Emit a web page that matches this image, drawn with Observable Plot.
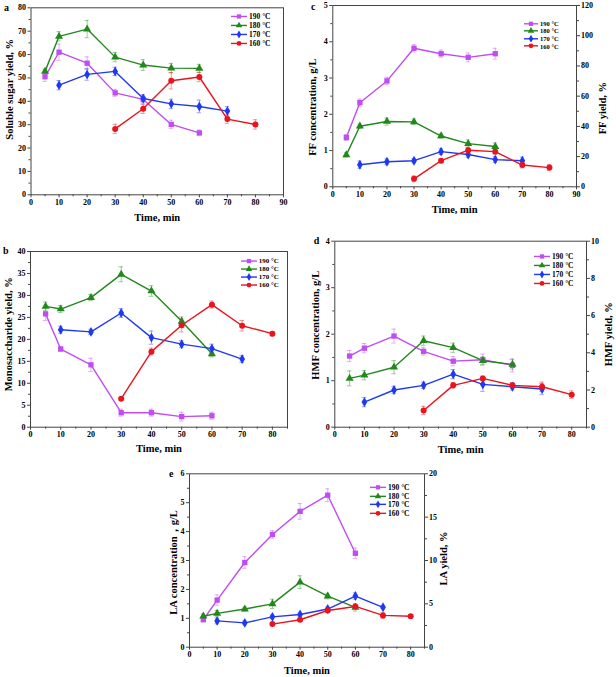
<!DOCTYPE html>
<html><head><meta charset="utf-8">
<script src="https://cdn.jsdelivr.net/npm/d3@7"></script>
<script src="https://cdn.jsdelivr.net/npm/@observablehq/plot@0.6"></script>
<style>
body{margin:0;background:#fff;}
#chart{position:relative;width:616px;height:677px;overflow:hidden;font-family:"Liberation Serif","Times New Roman",serif;font-weight:bold;color:#000;}
#chart > svg{position:absolute;overflow:visible;}
.legend{position:absolute;}
.legend .row{display:flex;align-items:center;white-space:nowrap;}
.legend svg{display:block;}
</style></head><body><div id="chart"></div>
<script>
const series = ["190 °C","180 °C","170 °C","160 °C"];
const colors = ["#c14cf2","#22881c","#1f38f2","#e8141e"];
const symbols = ["square","triangle","diamond","circle"];

const t190 = [5,10,20,30,40,50,60];
const t180 = [5,10,20,30,40,50,60];
const t170 = [10,20,30,40,50,60,70];
const t160 = [30,40,50,60,70,80];

// a: soluble sugar yield, %
const sugar190 = [50.5,61.0,56.3,43.6,40.8,30.1,26.5];
const sugarErr190 = [2.0,3.5,2.7,1.5,2.0,1.8,1.2];
const sugar180 = [52.8,67.8,70.9,58.9,55.5,54.2,54.1];
const sugarErr180 = [1.0,2.0,3.7,2.0,2.3,2.0,1.7];
const sugar170 = [46.9,51.5,52.8,41.2,38.9,37.8,35.8];
const sugarErr170 = [2.0,2.5,1.8,1.5,2.0,2.7,2.0];
const sugar160 = [28.2,36.8,48.8,50.4,32.4,30.1];
const sugarErr160 = [2.0,2.0,3.5,2.0,1.8,2.0];

// b: monosaccharide yield, %
const mono190 = [25.8,17.8,14.2,3.3,3.3,2.4,2.6];
const monoErr190 = [1.5,0.5,1.5,0.8,0.8,1.0,0.8];
const mono180 = [27.5,26.9,29.5,34.8,31.0,24.1,16.7];
const monoErr180 = [1.0,0.8,0.7,1.7,1.2,1.0,0.7];
const mono170 = [22.2,21.7,26.0,20.4,18.9,17.9,15.5];
const monoErr170 = [0.8,0.6,1.0,1.5,0.8,1.0,0.8];
const mono160 = [6.5,17.2,23.2,27.9,23.1,21.3];
const monoErr160 = [0.3,0.8,1.5,0.8,1.2,0.5];

// c: FF concentration, g/L
const ff190 = [1.36,2.32,2.92,3.82,3.67,3.57,3.67];
const ffErr190 = [0.08,0.1,0.1,0.1,0.1,0.12,0.15];
const ff180 = [0.88,1.67,1.80,1.79,1.40,1.19,1.11];
const ffErr180 = [0.06,0.06,0.1,0.08,0.06,0.1,0.1];
const ff170 = [0.61,0.69,0.72,0.97,0.89,0.75,0.72];
const ffErr170 = [0.1,0.08,0.06,0.08,0.08,0.08,0.1];
const ff160 = [0.22,0.72,1.01,0.97,0.60,0.53];
const ffErr160 = [0.08,0.06,0.08,0.06,0.08,0.08];

// d: HMF concentration, g/L
const hmf190 = [1.53,1.70,1.96,1.63,1.42,1.45,1.33];
const hmfErr190 = [0.12,0.1,0.15,0.08,0.1,0.12,0.14];
const hmf180 = [1.05,1.12,1.29,1.86,1.71,1.43,1.35];
const hmfErr180 = [0.16,0.1,0.14,0.1,0.1,0.08,0.1];
const hmf170 = [0.54,0.80,0.90,1.14,0.92,0.87,0.82];
const hmfErr170 = [0.1,0.08,0.07,0.1,0.15,0.07,0.12];
const hmf160 = [0.36,0.90,1.05,0.90,0.87,0.70];
const hmfErr160 = [0.09,0.06,0.05,0.06,0.1,0.08];

// e: LA concentration, g/L
const la190 = [0.95,1.63,2.93,3.90,4.70,5.26,3.25];
const laErr190 = [0.06,0.18,0.2,0.13,0.27,0.22,0.18];
const la180 = [1.07,1.17,1.32,1.50,2.25,1.77,1.38];
const laErr180 = [0.08,0.1,0.07,0.16,0.22,0.1,0.13];
const la170 = [0.91,0.84,1.05,1.13,1.32,1.77,1.38];
const laErr170 = [0.1,0.07,0.06,0.06,0.08,0.11,0.05];
const la160 = [0.80,0.95,1.27,1.41,1.10,1.07];
const laErr160 = [0.04,0.05,0.06,0.06,0.1,0.05];

// tick labels
const xTicks90 = [0,10,20,30,40,50,60,70,80,90];
const xTicks80 = [0,10,20,30,40,50,60,70,80];
const sugarTicks = [0,10,20,30,40,50,60,70,80];
const monoTicks = [0,5,10,15,20,25,30,35,40];
const ffTicks = [0,1,2,3,4,5];
const ffYieldTicks = [0,20,40,60,80,100,120];
const hmfTicks = [0,1,2,3,4];
const hmfYieldTicks = [0,2,4,6,8,10];
const laTicks = [0,1,2,3,4,5,6];
const laYieldTicks = [0,5,10,15,20];

function rows(t, v, e, s){ return t.map((x,i)=>({time:x, value:v[i], err:e[i], series:s})); }
function minor(ticks, max){
  const step = ticks[1]-ticks[0];
  return ticks.map(t=>t+step/2).filter(t=>t<=max+1e-9);
}

const chart = document.getElementById("chart");
const AX = "#444";

function panel(c){
  const data = [
    ...rows(t190, c.v[0], c.e[0], series[0]),
    ...rows(t180, c.v[1], c.e[1], series[1]),
    ...rows(t170, c.v[2], c.e[2], series[2]),
    ...rows(t160, c.v[3], c.e[3], series[3])
  ];
  const cap = 0.75;
  const yMax = c.yTicks[c.yTicks.length-1];
  const marks = [
    Plot.frame({stroke:AX, strokeWidth:1}),
    Plot.axisX(c.xTicks, {tickSize:3, tickPadding:1.5, label:null, stroke:AX}),
    Plot.axisX(minor(c.xTicks, c.xMax), {tickSize:2, tickFormat:()=>"", label:null, stroke:AX}),
    Plot.axisY(c.yTicks, {tickSize:3, tickPadding:2, label:null, stroke:AX}),
    Plot.axisY(minor(c.yTicks, yMax), {tickSize:2, tickFormat:()=>"", label:null, stroke:AX}),
    Plot.ruleX(data, {x:"time", y1:d=>d.value-d.err, y2:d=>d.value+d.err, stroke:"series", strokeOpacity:0.45, strokeWidth:1}),
    Plot.ruleY(data, {y:d=>d.value-d.err, x1:d=>d.time-cap, x2:d=>d.time+cap, stroke:"series", strokeOpacity:0.45}),
    Plot.ruleY(data, {y:d=>d.value+d.err, x1:d=>d.time-cap, x2:d=>d.time+cap, stroke:"series", strokeOpacity:0.45}),
    Plot.line(data, {x:"time", y:"value", z:"series", stroke:"series", strokeWidth:1.4}),
    Plot.dot(data, {x:"time", y:"value", fill:"series", symbol:"series", r:3, stroke:"none"}),
    Plot.text([c.letter], {frameAnchor:"top-left", textAnchor:"middle", lineAnchor:"middle", dx:c.letterD[0], dy:c.letterD[1], fontSize:10}),
    Plot.text(["Time, min"], {frameAnchor:"bottom", textAnchor:"middle", lineAnchor:"middle", dy:c.xTitleDy, fontSize:10.5}),
    Plot.text([c.yTitle], {frameAnchor:"left", textAnchor:"middle", lineAnchor:"middle", rotate:-90, dx:c.yTitleD[0], dy:c.yTitleD[1], fontSize:10.5})
  ];
  if (c.rTicks) {
    const k = yMax / c.rTicks[c.rTicks.length-1];
    const rMax = c.rTicks[c.rTicks.length-1];
    marks.push(
      Plot.axisY(c.rTicks.map(v=>v*k), {anchor:"right", tickSize:3, tickPadding:1.5, label:null, stroke:AX, tickFormat:d=>String(Math.round(d/k))}),
      Plot.axisY(minor(c.rTicks, rMax).map(v=>v*k), {anchor:"right", tickSize:2, tickFormat:()=>"", label:null, stroke:AX}),
      Plot.text([c.rTitle], {frameAnchor:"right", textAnchor:"middle", lineAnchor:"middle", rotate:-90, dx:c.rTitleD[0], dy:c.rTitleD[1], fontSize:10.5})
    );
  }
  const svg = Plot.plot({
    width:c.w, height:c.h,
    marginLeft:c.m[0], marginRight:c.m[1], marginTop:c.m[2], marginBottom:c.m[3],
    x:{domain:[0,c.xMax]},
    y:{domain:[0,yMax]},
    color:{domain:series, range:colors},
    symbol:{domain:series, range:symbols},
    style:{fontFamily:'"Liberation Serif","Times New Roman",serif', fontWeight:"bold", fontSize:"8px", color:"#000", background:"transparent", overflow:"visible"},
    marks
  });
  svg.style.left = c.pos[0]+"px";
  svg.style.top = c.pos[1]+"px";
  chart.appendChild(svg);
}

const d3syms = [d3.symbolSquare, d3.symbolTriangle, d3.symbolDiamond, d3.symbolCircle];
function legend(left, top, spacing, len, fontSize){
  const div = d3.select(chart).append("div").attr("class","legend").style("left",left+"px").style("top",top+"px");
  series.forEach((s,i)=>{
    const row = div.append("div").attr("class","row").style("height",spacing+"px");
    const svg = row.append("svg").attr("width",len+1).attr("height",spacing);
    svg.append("line").attr("x1",0).attr("x2",len).attr("y1",spacing/2).attr("y2",spacing/2).attr("stroke",colors[i]).attr("stroke-width",1.4);
    svg.append("path").attr("transform",`translate(${len/2},${spacing/2})`).attr("d", d3.symbol(d3syms[i], Math.PI*2.4*2.4)()).attr("fill",colors[i]);
    row.append("span").text(s).style("font-size",fontSize+"px").style("margin-left","1px");
  });
}

panel({letter:"a", pos:[0,0], w:300, h:228, m:[30.5,17,7.3,33.7], xMax:90, xTicks:xTicks90, yTicks:sugarTicks,
  v:[sugar190,sugar180,sugar170,sugar160], e:[sugarErr190,sugarErr180,sugarErr170,sugarErr160],
  yTitle:"Soluble sugar yield, %", yTitleD:[-21.5,-12], xTitleDy:23, letterD:[-24.5,0]});
panel({letter:"b", pos:[0,228], w:300, h:228, m:[30,13,23,29.3], xMax:85, xTicks:xTicks80, yTicks:monoTicks,
  v:[mono190,mono180,mono170,mono160], e:[monoErr190,monoErr180,monoErr170,monoErr160],
  yTitle:"Monosaccharide yield, %", yTitleD:[-22,-5], xTitleDy:21, letterD:[-24.7,-1]});
panel({letter:"c", pos:[300,0], w:316, h:228, m:[32.3,40,5,41.7], xMax:90, xTicks:xTicks90, yTicks:ffTicks,
  v:[ff190,ff180,ff170,ff160], e:[ffErr190,ffErr180,ffErr170,ffErr160],
  yTitle:"FF concentration, g/L", yTitleD:[-20.3,11], xTitleDy:23, letterD:[-19.6,1],
  rTicks:ffYieldTicks, rTitle:"FF yield, %", rTitleD:[26,12]});
panel({letter:"d", pos:[300,228], w:316, h:228, m:[34.3,30,12.7,29.3], xMax:85, xTicks:xTicks80, yTicks:hmfTicks,
  v:[hmf190,hmf180,hmf170,hmf160], e:[hmfErr190,hmfErr180,hmfErr170,hmfErr160],
  yTitle:"HMF concentration, g/L", yTitleD:[-19,-9], xTitleDy:22.5, letterD:[-18.3,0],
  rTicks:hmfYieldTicks, rTitle:"HMF yield, %", rTitleD:[22,0]});
panel({letter:"e", pos:[150,456], w:310, h:221, m:[39,36,17.3,30.3], xMax:85, xTicks:xTicks80, yTicks:laTicks,
  v:[la190,la180,la170,la160], e:[laErr190,laErr180,laErr170,laErr160],
  yTitle:"LA concentration，g/L", yTitleD:[-15.7,2], xTitleDy:23.3, letterD:[-18.3,0],
  rTicks:laYieldTicks, rTitle:"LA yield, %", rTitleD:[19,-2]});

legend(231, 12.3, 8.9, 16, 7.5);
legend(240.7, 256.6, 8.1, 16, 7);
legend(524, 19.5, 7.6, 14, 6.5);
legend(534, 252.2, 8.9, 16, 7.5);
legend(370, 483, 8.7, 16, 7.5);
</script></body></html>
